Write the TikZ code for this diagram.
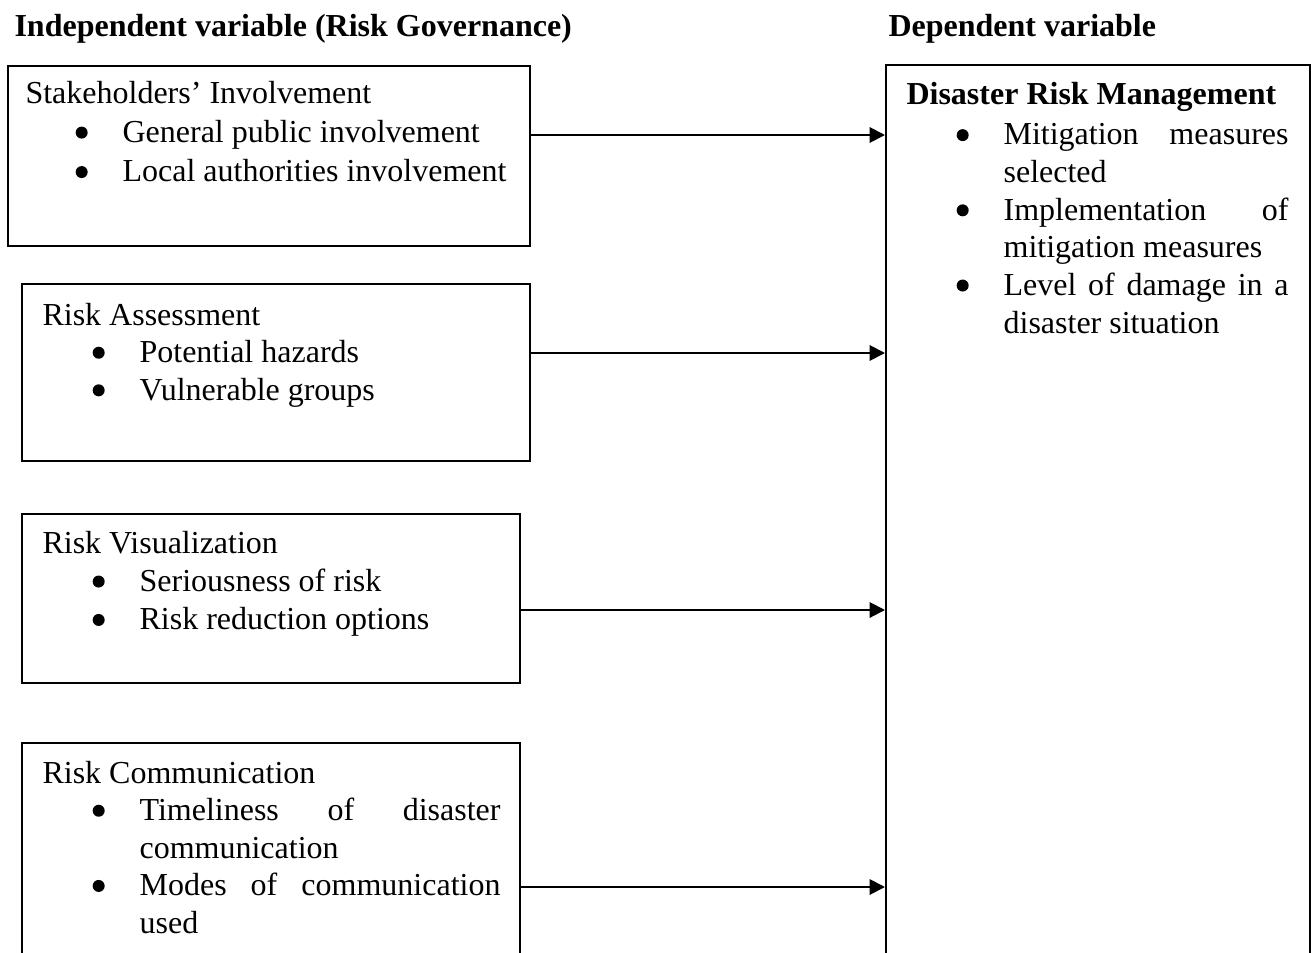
\documentclass[tikz,border=0pt]{standalone}
\usepackage{fontspec}
\setmainfont{Liberation Serif}
\usetikzlibrary{arrows.meta}
\newlength\itemind \setlength\itemind{36.4pt}
\newlength\bulind \setlength\bulind{18.8pt}
\newsavebox\bulbox
\sbox\bulbox{\begin{pgfpicture}\pgfpathcircle{\pgfpointorigin}{2.25pt}\pgfusepath{fill}\end{pgfpicture}}
\newcommand\bul[1]{\par\noindent\hangindent=\itemind\hangafter=1\makebox[\itemind][l]{\hspace{\bulind}\raisebox{1.45pt}{\usebox\bulbox}}#1}
\newcommand\boxtext[3]{\parbox[t]{#1}{\fontsize{12}{#2}\selectfont\hyphenpenalty=10000\exhyphenpenalty=10000\tolerance=10000\hbadness=10000\parindent=0pt\noindent #3}}
\begin{document}
\begin{tikzpicture}[x=0.375pt,y=-0.375pt,
  bx/.style={draw, line width=0.72pt, inner sep=0pt, anchor=north west},
  txt/.style={anchor=base west, inner sep=0pt},
  ttl/.style={anchor=base west, inner sep=0pt, font=\fontsize{12}{14}\selectfont\bfseries},
  arr/.style={line width=0.75pt, -{Triangle[length=5.8pt,width=5.8pt]}}]
\useasboundingbox (0,0) rectangle (1311,953);
\clip (0,0) rectangle (1311,953);
% titles
\node[ttl] (t1) at (14,36) {Independent variable (Risk Governance)};
\node[ttl] (t2) at (888,36) {Dependent variable};
% boxes
\node[bx, minimum width=522*0.375pt, minimum height=180*0.375pt] (b1) at (7,65) {};
\node[bx, minimum width=508*0.375pt, minimum height=177*0.375pt] (b2) at (21,283) {};
\node[bx, minimum width=498*0.375pt, minimum height=169*0.375pt] (b3) at (21,513) {};
\node[bx, minimum width=498*0.375pt, minimum height=300*0.375pt] (b4) at (21,742) {};
\node[bx, minimum width=424*0.375pt, minimum height=950*0.375pt] (dv) at (885,64) {};
% texts
\node[txt] (s1) at (25,103) {\boxtext{184pt}{14.8pt}{Stakeholders’ Involvement
  \bul{General public involvement}\bul{Local authorities involvement}}};
\node[txt] (s2) at (42,325) {\boxtext{175pt}{14.1pt}{Risk Assessment
  \bul{Potential hazards}\bul{Vulnerable groups}}};
\node[txt] (s3) at (42,553) {\boxtext{171.75pt}{14.4pt}{Risk Visualization
  \bul{Seriousness of risk}\bul{Risk reduction options}}};
\node[txt] (s4) at (42,783) {\boxtext{171.75pt}{14.1pt}{Risk Communication
  \bul{Timeliness of disaster\linebreak communication}\bul{Modes of communication\linebreak used}}};
\node[txt] (d1) at (906,105) {\boxtext{143.25pt}{14.1pt}{\textbf{Disaster Risk Management}\par\vspace{0.9pt}
  \bul{Mitigation measures\linebreak selected}\bul{Implementation of\linebreak mitigation measures}\bul{Level of damage in a\linebreak disaster situation}}};
% connectors
\draw[arr] (b1.east |- 0,135) -- (dv.west |- 0,135);
\draw[arr] (b2.east |- 0,353) -- (dv.west |- 0,353);
\draw[arr] (b3.east |- 0,610) -- (dv.west |- 0,610);
\draw[arr] (b4.east |- 0,887) -- (dv.west |- 0,887);
\end{tikzpicture}
\end{document}
